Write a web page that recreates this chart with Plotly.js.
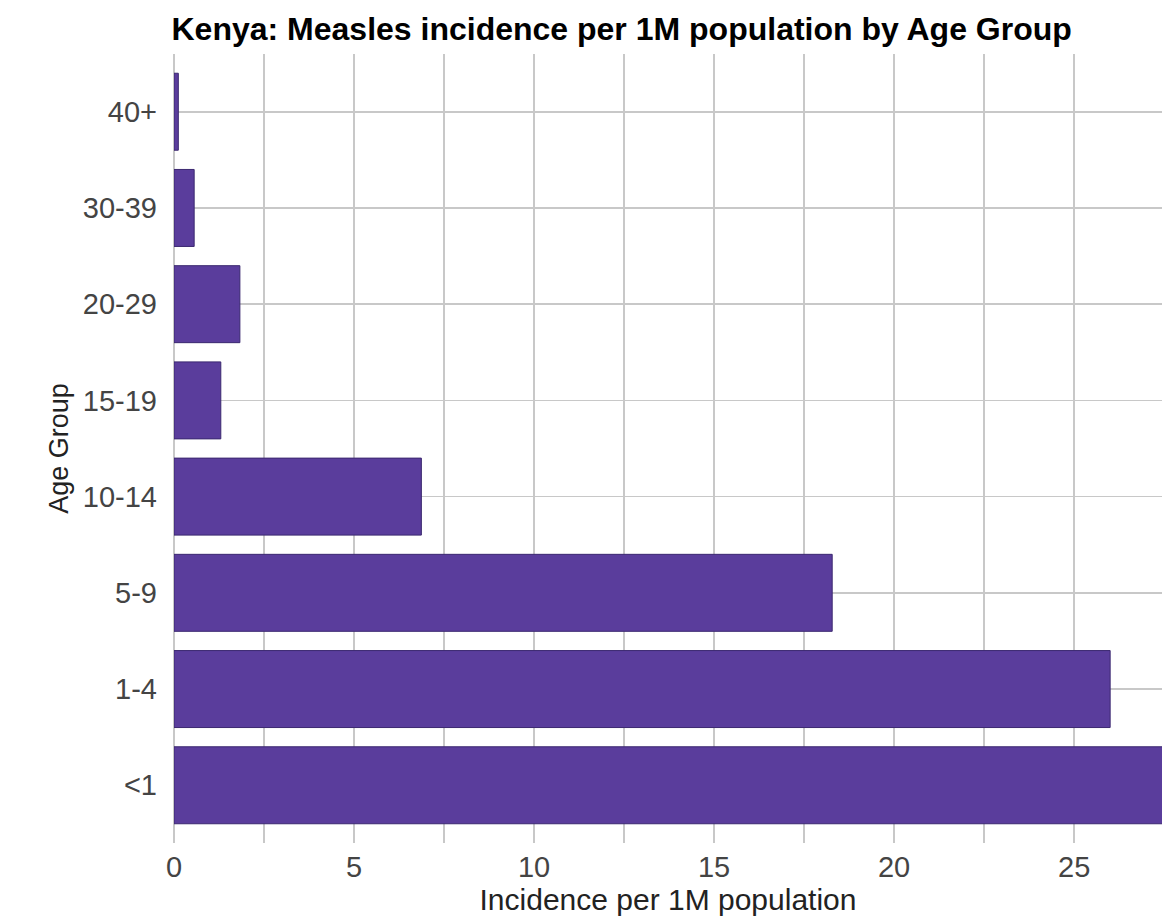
<!DOCTYPE html>
<html>
<head>
<meta charset="utf-8">
<script src="https://cdn.plot.ly/plotly-3.0.1.min.js"></script>
<style>html,body{margin:0;padding:0;background:#fff}#chart{width:1162px;height:916px}</style>
</head>
<body>
<div id="chart"></div>
<script>
const ageGroups = ["<1", "1-4", "5-9", "10-14", "15-19", "20-29", "30-39", "40+"];
const incidence = [27.6, 26.0, 18.28, 6.87, 1.3, 1.83, 0.56, 0.12];
const xTickVals = [0, 5, 10, 15, 20, 25];

const FONT = "Liberation Sans, Arial, Helvetica, sans-serif";

const trace = {
  type: "bar",
  orientation: "h",
  y: ageGroups,
  x: incidence,
  width: 0.8,
  marker: {color: "#5a3d9c", line: {color: "#3b2870", width: 1}},
  hoverinfo: "x+y"
};

const layout = {
  width: 1162, height: 916,
  margin: {l: 174, r: 0, t: 54, b: 73},
  paper_bgcolor: "#ffffff", plot_bgcolor: "#ffffff",
  showlegend: false,
  title: {
    text: "<b>Kenya: Measles incidence per 1M population by Age Group</b>",
    font: {family: FONT, size: 32, color: "#000"},
    x: 0.535, xanchor: "center", xref: "container", y: 0.969, yanchor: "middle", yref: "container"
  },
  xaxis: {
    range: [0, 27.44],
    tickvals: xTickVals,
    ticktext: xTickVals.map(String),
    showgrid: true, gridcolor: "#c8c8c8", gridwidth: 1.6,
    minor: {dtick: 2.5, tick0: 0, showgrid: true, gridcolor: "#c8c8c8", gridwidth: 1.6},
    zeroline: true, zerolinecolor: "#c8c8c8", zerolinewidth: 1.6,
    showline: false, ticks: "",
    ticklabelstandoff: 4,
    automargin: false,
    tickfont: {family: FONT, size: 29, color: "#444"},
    title: {text: "Incidence per 1M population", standoff: 1,
      font: {family: FONT, size: 30, color: "#222"}},
    fixedrange: true
  },
  yaxis: {
    type: "category",
    categoryorder: "array", categoryarray: ageGroups,
    range: [-0.6, 7.6],
    showgrid: true, gridcolor: "#c8c8c8", gridwidth: 1.6,
    showline: false, ticks: "",
    ticklabelstandoff: 16,
    automargin: false,
    tickfont: {family: FONT, size: 29, color: "#444"},
    title: {text: "Age Group", standoff: 6,
      font: {family: FONT, size: 27, color: "#222"}},
    fixedrange: true
  }
};

Plotly.newPlot("chart", [trace], layout, {displayModeBar: false, staticPlot: true});
</script>
</body>
</html>
